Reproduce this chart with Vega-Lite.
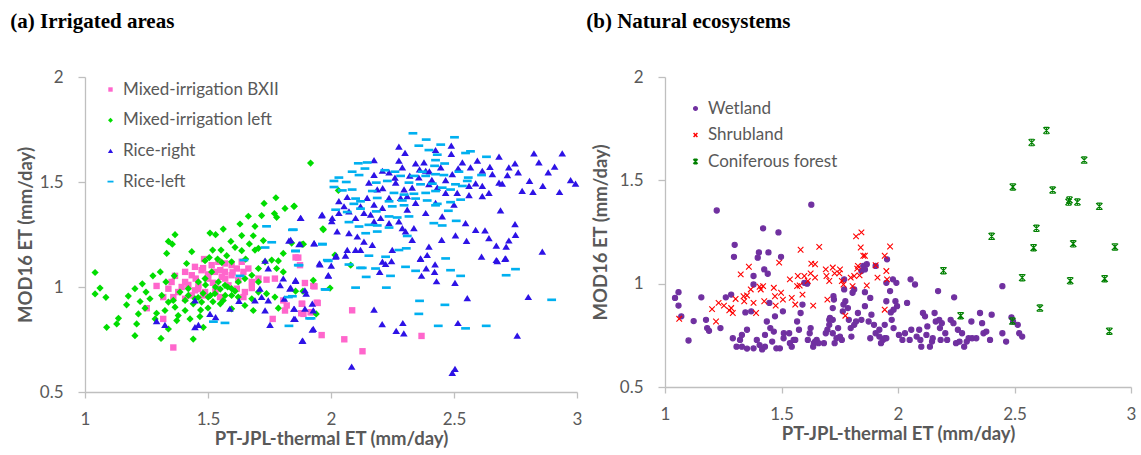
{
"$schema": "https://vega.github.io/schema/vega-lite/v6.json",
"background": "white",
"padding": {"left": 10, "top": 11, "right": 2, "bottom": 0},
"config": {
 "font": "Lato",
 "view": {"stroke": null},
 "axis": {"grid": false, "domainColor": "#BFBFBF", "domainWidth": 1.3, "tickColor": "#BFBFBF", "tickWidth": 1.3, "labelColor": "#595959", "titleColor": "#595959", "labelFont": "Lato", "labelFontSize": 17, "titleFont": "Lato", "titleFontSize": 18.5, "titleFontWeight": "bold"},
 "axisX": {"tickSize": 6, "labelPadding": 13, "titlePadding": 2.5, "labelFlush": false},
 "axisY": {"tickSize": 7, "labelPadding": 15},
 "legend": {"labelFont": "Lato", "labelFontSize": 17, "labelColor": "#595959", "labelOffset": 4, "symbolSize": 30, "title": null},
 "title": {"font": "Liberation Serif", "fontSize": 21, "fontWeight": "bold", "color": "#000000", "anchor": "start", "frame": "bounds", "offset": 36, "dx": -6}
},
"datasets": {
"irr": [
{"pt":1.484,"mod":1.133,"site":"Mixed-irrigation BXII"},{"pt":1.447,"mod":1.096,"site":"Mixed-irrigation BXII"},{"pt":1.407,"mod":1.072,"site":"Mixed-irrigation BXII"},{"pt":1.366,"mod":1.053,"site":"Mixed-irrigation BXII"},{"pt":1.352,"mod":1.024,"site":"Mixed-irrigation BXII"},{"pt":1.339,"mod":0.992,"site":"Mixed-irrigation BXII"},{"pt":1.379,"mod":0.976,"site":"Mixed-irrigation BXII"},{"pt":1.407,"mod":1.024,"site":"Mixed-irrigation BXII"},{"pt":1.434,"mod":1.056,"site":"Mixed-irrigation BXII"},{"pt":1.474,"mod":1.080,"site":"Mixed-irrigation BXII"},{"pt":1.515,"mod":1.104,"site":"Mixed-irrigation BXII"},{"pt":1.542,"mod":1.120,"site":"Mixed-irrigation BXII"},{"pt":1.569,"mod":1.112,"site":"Mixed-irrigation BXII"},{"pt":1.596,"mod":1.104,"site":"Mixed-irrigation BXII"},{"pt":1.617,"mod":1.088,"site":"Mixed-irrigation BXII"},{"pt":1.644,"mod":1.072,"site":"Mixed-irrigation BXII"},{"pt":1.596,"mod":1.056,"site":"Mixed-irrigation BXII"},{"pt":1.556,"mod":1.048,"site":"Mixed-irrigation BXII"},{"pt":1.528,"mod":1.072,"site":"Mixed-irrigation BXII"},{"pt":1.501,"mod":1.040,"site":"Mixed-irrigation BXII"},{"pt":1.461,"mod":1.008,"site":"Mixed-irrigation BXII"},{"pt":1.434,"mod":0.960,"site":"Mixed-irrigation BXII"},{"pt":1.407,"mod":0.944,"site":"Mixed-irrigation BXII"},{"pt":1.481,"mod":0.960,"site":"Mixed-irrigation BXII"},{"pt":1.535,"mod":0.992,"site":"Mixed-irrigation BXII"},{"pt":1.583,"mod":1.008,"site":"Mixed-irrigation BXII"},{"pt":1.623,"mod":1.032,"site":"Mixed-irrigation BXII"},{"pt":1.650,"mod":0.976,"site":"Mixed-irrigation BXII"},{"pt":1.678,"mod":1.024,"site":"Mixed-irrigation BXII"},{"pt":1.705,"mod":1.040,"site":"Mixed-irrigation BXII"},{"pt":1.738,"mod":1.035,"site":"Mixed-irrigation BXII"},{"pt":1.772,"mod":1.040,"site":"Mixed-irrigation BXII"},{"pt":1.664,"mod":1.088,"site":"Mixed-irrigation BXII"},{"pt":1.291,"mod":1.005,"site":"Mixed-irrigation BXII"},{"pt":1.318,"mod":0.952,"site":"Mixed-irrigation BXII"},{"pt":1.359,"mod":0.952,"site":"Mixed-irrigation BXII"},{"pt":1.251,"mod":0.899,"site":"Mixed-irrigation BXII"},{"pt":1.318,"mod":0.848,"site":"Mixed-irrigation BXII"},{"pt":1.359,"mod":0.712,"site":"Mixed-irrigation BXII"},{"pt":1.806,"mod":0.936,"site":"Mixed-irrigation BXII"},{"pt":1.820,"mod":0.912,"site":"Mixed-irrigation BXII"},{"pt":1.881,"mod":0.920,"site":"Mixed-irrigation BXII"},{"pt":1.894,"mod":1.019,"site":"Mixed-irrigation BXII"},{"pt":1.928,"mod":1.005,"site":"Mixed-irrigation BXII"},{"pt":1.867,"mod":1.140,"site":"Mixed-irrigation BXII"},{"pt":1.874,"mod":1.104,"site":"Mixed-irrigation BXII"},{"pt":1.888,"mod":0.872,"site":"Mixed-irrigation BXII"},{"pt":1.921,"mod":0.880,"site":"Mixed-irrigation BXII"},{"pt":1.942,"mod":0.925,"site":"Mixed-irrigation BXII"},{"pt":1.962,"mod":0.771,"site":"Mixed-irrigation BXII"},{"pt":1.813,"mod":0.888,"site":"Mixed-irrigation BXII"},{"pt":1.763,"mod":0.848,"site":"Mixed-irrigation BXII"},{"pt":1.644,"mod":0.952,"site":"Mixed-irrigation BXII"},{"pt":1.549,"mod":0.952,"site":"Mixed-irrigation BXII"},{"pt":1.447,"mod":0.984,"site":"Mixed-irrigation BXII"},{"pt":1.393,"mod":1.000,"site":"Mixed-irrigation BXII"},{"pt":1.488,"mod":0.976,"site":"Mixed-irrigation BXII"},{"pt":1.569,"mod":1.072,"site":"Mixed-irrigation BXII"},{"pt":1.637,"mod":1.120,"site":"Mixed-irrigation BXII"},{"pt":1.678,"mod":0.995,"site":"Mixed-irrigation BXII"},{"pt":1.617,"mod":0.992,"site":"Mixed-irrigation BXII"},{"pt":1.45,"mod":1.04,"site":"Mixed-irrigation BXII"},{"pt":1.50,"mod":1.06,"site":"Mixed-irrigation BXII"},{"pt":1.52,"mod":1.02,"site":"Mixed-irrigation BXII"},{"pt":1.55,"mod":1.08,"site":"Mixed-irrigation BXII"},{"pt":1.48,"mod":1.09,"site":"Mixed-irrigation BXII"},{"pt":1.42,"mod":1.01,"site":"Mixed-irrigation BXII"},{"pt":1.57,"mod":1.04,"site":"Mixed-irrigation BXII"},{"pt":1.60,"mod":1.07,"site":"Mixed-irrigation BXII"},{"pt":1.53,"mod":0.98,"site":"Mixed-irrigation BXII"},{"pt":1.46,"mod":0.99,"site":"Mixed-irrigation BXII"},{"pt":1.856,"mod":1.141,"site":"Mixed-irrigation BXII"},{"pt":1.933,"mod":1.003,"site":"Mixed-irrigation BXII"},{"pt":1.883,"mod":0.920,"site":"Mixed-irrigation BXII"},{"pt":1.879,"mod":0.875,"site":"Mixed-irrigation BXII"},{"pt":1.946,"mod":0.924,"site":"Mixed-irrigation BXII"},{"pt":1.917,"mod":0.880,"site":"Mixed-irrigation BXII"},{"pt":2.086,"mod":0.889,"site":"Mixed-irrigation BXII"},{"pt":2.054,"mod":0.751,"site":"Mixed-irrigation BXII"},{"pt":2.128,"mod":0.694,"site":"Mixed-irrigation BXII"},{"pt":2.368,"mod":0.767,"site":"Mixed-irrigation BXII"},
{"pt":1.776,"mod":1.425,"site":"Mixed-irrigation left"},{"pt":1.728,"mod":1.398,"site":"Mixed-irrigation left"},{"pt":1.851,"mod":1.385,"site":"Mixed-irrigation left"},{"pt":1.813,"mod":1.374,"site":"Mixed-irrigation left"},{"pt":1.770,"mod":1.350,"site":"Mixed-irrigation left"},{"pt":1.779,"mod":1.332,"site":"Mixed-irrigation left"},{"pt":1.664,"mod":1.337,"site":"Mixed-irrigation left"},{"pt":1.718,"mod":1.340,"site":"Mixed-irrigation left"},{"pt":1.630,"mod":1.300,"site":"Mixed-irrigation left"},{"pt":1.691,"mod":1.289,"site":"Mixed-irrigation left"},{"pt":1.562,"mod":1.276,"site":"Mixed-irrigation left"},{"pt":1.508,"mod":1.257,"site":"Mixed-irrigation left"},{"pt":1.531,"mod":1.249,"site":"Mixed-irrigation left"},{"pt":1.366,"mod":1.249,"site":"Mixed-irrigation left"},{"pt":1.339,"mod":1.217,"site":"Mixed-irrigation left"},{"pt":1.355,"mod":1.204,"site":"Mixed-irrigation left"},{"pt":1.332,"mod":1.160,"site":"Mixed-irrigation left"},{"pt":1.593,"mod":1.217,"site":"Mixed-irrigation left"},{"pt":1.637,"mod":1.245,"site":"Mixed-irrigation left"},{"pt":1.684,"mod":1.244,"site":"Mixed-irrigation left"},{"pt":1.725,"mod":1.221,"site":"Mixed-irrigation left"},{"pt":1.668,"mod":1.205,"site":"Mixed-irrigation left"},{"pt":1.610,"mod":1.189,"site":"Mixed-irrigation left"},{"pt":1.553,"mod":1.176,"site":"Mixed-irrigation left"},{"pt":1.519,"mod":1.176,"site":"Mixed-irrigation left"},{"pt":1.434,"mod":1.168,"site":"Mixed-irrigation left"},{"pt":1.576,"mod":1.149,"site":"Mixed-irrigation left"},{"pt":1.637,"mod":1.173,"site":"Mixed-irrigation left"},{"pt":1.691,"mod":1.176,"site":"Mixed-irrigation left"},{"pt":1.705,"mod":1.184,"site":"Mixed-irrigation left"},{"pt":1.653,"mod":1.133,"site":"Mixed-irrigation left"},{"pt":1.413,"mod":1.112,"site":"Mixed-irrigation left"},{"pt":1.488,"mod":1.125,"site":"Mixed-irrigation left"},{"pt":1.505,"mod":1.140,"site":"Mixed-irrigation left"},{"pt":1.539,"mod":1.133,"site":"Mixed-irrigation left"},{"pt":1.556,"mod":1.117,"site":"Mixed-irrigation left"},{"pt":1.596,"mod":1.120,"site":"Mixed-irrigation left"},{"pt":1.041,"mod":1.069,"site":"Mixed-irrigation left"},{"pt":1.306,"mod":1.072,"site":"Mixed-irrigation left"},{"pt":1.276,"mod":1.053,"site":"Mixed-irrigation left"},{"pt":1.329,"mod":1.024,"site":"Mixed-irrigation left"},{"pt":1.363,"mod":1.053,"site":"Mixed-irrigation left"},{"pt":1.233,"mod":1.015,"site":"Mixed-irrigation left"},{"pt":1.203,"mod":0.992,"site":"Mixed-irrigation left"},{"pt":1.176,"mod":0.957,"site":"Mixed-irrigation left"},{"pt":1.248,"mod":0.976,"site":"Mixed-irrigation left"},{"pt":1.061,"mod":0.995,"site":"Mixed-irrigation left"},{"pt":1.041,"mod":0.967,"site":"Mixed-irrigation left"},{"pt":1.085,"mod":0.951,"site":"Mixed-irrigation left"},{"pt":1.264,"mod":0.944,"site":"Mixed-irrigation left"},{"pt":1.224,"mod":0.931,"site":"Mixed-irrigation left"},{"pt":1.169,"mod":0.915,"site":"Mixed-irrigation left"},{"pt":1.136,"mod":0.851,"site":"Mixed-irrigation left"},{"pt":1.088,"mod":0.808,"site":"Mixed-irrigation left"},{"pt":1.129,"mod":0.824,"site":"Mixed-irrigation left"},{"pt":1.210,"mod":0.824,"site":"Mixed-irrigation left"},{"pt":1.244,"mod":0.899,"site":"Mixed-irrigation left"},{"pt":1.291,"mod":0.875,"site":"Mixed-irrigation left"},{"pt":1.325,"mod":0.888,"site":"Mixed-irrigation left"},{"pt":1.217,"mod":0.872,"site":"Mixed-irrigation left"},{"pt":1.203,"mod":0.768,"site":"Mixed-irrigation left"},{"pt":1.309,"mod":0.755,"site":"Mixed-irrigation left"},{"pt":1.440,"mod":0.752,"site":"Mixed-irrigation left"},{"pt":1.339,"mod":0.800,"site":"Mixed-irrigation left"},{"pt":1.379,"mod":0.864,"site":"Mixed-irrigation left"},{"pt":1.407,"mod":0.888,"site":"Mixed-irrigation left"},{"pt":1.427,"mod":0.848,"site":"Mixed-irrigation left"},{"pt":1.467,"mod":0.859,"site":"Mixed-irrigation left"},{"pt":1.481,"mod":0.808,"site":"Mixed-irrigation left"},{"pt":1.359,"mod":0.936,"site":"Mixed-irrigation left"},{"pt":1.386,"mod":0.976,"site":"Mixed-irrigation left"},{"pt":1.420,"mod":0.992,"site":"Mixed-irrigation left"},{"pt":1.461,"mod":1.024,"site":"Mixed-irrigation left"},{"pt":1.488,"mod":1.040,"site":"Mixed-irrigation left"},{"pt":1.515,"mod":1.072,"site":"Mixed-irrigation left"},{"pt":1.542,"mod":1.024,"site":"Mixed-irrigation left"},{"pt":1.569,"mod":1.008,"site":"Mixed-irrigation left"},{"pt":1.596,"mod":0.992,"site":"Mixed-irrigation left"},{"pt":1.623,"mod":1.024,"site":"Mixed-irrigation left"},{"pt":1.650,"mod":1.040,"site":"Mixed-irrigation left"},{"pt":1.678,"mod":1.056,"site":"Mixed-irrigation left"},{"pt":1.705,"mod":1.088,"site":"Mixed-irrigation left"},{"pt":1.732,"mod":1.120,"site":"Mixed-irrigation left"},{"pt":1.759,"mod":1.128,"site":"Mixed-irrigation left"},{"pt":1.786,"mod":1.124,"site":"Mixed-irrigation left"},{"pt":1.779,"mod":1.088,"site":"Mixed-irrigation left"},{"pt":1.806,"mod":1.160,"site":"Mixed-irrigation left"},{"pt":1.840,"mod":1.209,"site":"Mixed-irrigation left"},{"pt":1.888,"mod":1.204,"site":"Mixed-irrigation left"},{"pt":1.969,"mod":1.273,"site":"Mixed-irrigation left"},{"pt":1.928,"mod":1.032,"site":"Mixed-irrigation left"},{"pt":1.996,"mod":0.995,"site":"Mixed-irrigation left"},{"pt":1.806,"mod":1.072,"site":"Mixed-irrigation left"},{"pt":1.705,"mod":0.976,"site":"Mixed-irrigation left"},{"pt":1.738,"mod":0.968,"site":"Mixed-irrigation left"},{"pt":1.772,"mod":0.952,"site":"Mixed-irrigation left"},{"pt":1.786,"mod":0.899,"site":"Mixed-irrigation left"},{"pt":1.684,"mod":0.888,"site":"Mixed-irrigation left"},{"pt":1.650,"mod":0.912,"site":"Mixed-irrigation left"},{"pt":1.596,"mod":0.960,"site":"Mixed-irrigation left"},{"pt":1.562,"mod":0.936,"site":"Mixed-irrigation left"},{"pt":1.528,"mod":0.968,"site":"Mixed-irrigation left"},{"pt":1.501,"mod":0.952,"site":"Mixed-irrigation left"},{"pt":1.474,"mod":0.928,"site":"Mixed-irrigation left"},{"pt":1.447,"mod":0.944,"site":"Mixed-irrigation left"},{"pt":1.407,"mod":0.936,"site":"Mixed-irrigation left"},{"pt":1.366,"mod":0.904,"site":"Mixed-irrigation left"},{"pt":1.339,"mod":0.928,"site":"Mixed-irrigation left"},{"pt":1.312,"mod":0.960,"site":"Mixed-irrigation left"},{"pt":1.285,"mod":0.848,"site":"Mixed-irrigation left"},{"pt":1.373,"mod":0.840,"site":"Mixed-irrigation left"},{"pt":1.705,"mod":1.024,"site":"Mixed-irrigation left"},{"pt":1.678,"mod":0.944,"site":"Mixed-irrigation left"},{"pt":1.623,"mod":0.952,"site":"Mixed-irrigation left"},{"pt":1.596,"mod":0.896,"site":"Mixed-irrigation left"},{"pt":1.48,"mod":0.97,"site":"Mixed-irrigation left"},{"pt":1.52,"mod":0.93,"site":"Mixed-irrigation left"},{"pt":1.55,"mod":0.99,"site":"Mixed-irrigation left"},{"pt":1.50,"mod":0.90,"site":"Mixed-irrigation left"},{"pt":1.46,"mod":0.95,"site":"Mixed-irrigation left"},{"pt":1.53,"mod":1.00,"site":"Mixed-irrigation left"},{"pt":1.57,"mod":0.96,"site":"Mixed-irrigation left"},{"pt":1.44,"mod":0.92,"site":"Mixed-irrigation left"},{"pt":1.51,"mod":0.96,"site":"Mixed-irrigation left"},{"pt":1.55,"mod":0.92,"site":"Mixed-irrigation left"},{"pt":1.49,"mod":1.01,"site":"Mixed-irrigation left"},{"pt":1.42,"mod":0.96,"site":"Mixed-irrigation left"},{"pt":1.58,"mod":1.00,"site":"Mixed-irrigation left"},{"pt":1.61,"mod":0.98,"site":"Mixed-irrigation left"},{"pt":1.47,"mod":0.89,"site":"Mixed-irrigation left"},{"pt":1.917,"mod":1.59,"site":"Mixed-irrigation left"},{"pt":1.849,"mod":1.384,"site":"Mixed-irrigation left"},{"pt":1.967,"mod":1.277,"site":"Mixed-irrigation left"},{"pt":1.883,"mod":1.203,"site":"Mixed-irrigation left"},{"pt":2.016,"mod":1.152,"site":"Mixed-irrigation left"},{"pt":2.08,"mod":1.104,"site":"Mixed-irrigation left"},{"pt":2.03,"mod":1.46,"site":"Mixed-irrigation left"},{"pt":1.856,"mod":0.98,"site":"Mixed-irrigation left"},{"pt":1.886,"mod":0.98,"site":"Mixed-irrigation left"},{"pt":1.94,"mod":0.872,"site":"Mixed-irrigation left"},
{"pt":1.877,"mod":1.329,"site":"Rice-right"},{"pt":1.962,"mod":1.340,"site":"Rice-right"},{"pt":2.003,"mod":1.313,"site":"Rice-right"},{"pt":1.829,"mod":1.220,"site":"Rice-right"},{"pt":1.874,"mod":1.205,"site":"Rice-right"},{"pt":1.932,"mod":1.207,"site":"Rice-right"},{"pt":1.953,"mod":1.112,"site":"Rice-right"},{"pt":1.989,"mod":1.056,"site":"Rice-right"},{"pt":1.732,"mod":1.125,"site":"Rice-right"},{"pt":1.745,"mod":1.088,"site":"Rice-right"},{"pt":1.806,"mod":1.040,"site":"Rice-right"},{"pt":1.856,"mod":1.029,"site":"Rice-right"},{"pt":1.793,"mod":1.008,"site":"Rice-right"},{"pt":1.833,"mod":0.992,"site":"Rice-right"},{"pt":1.894,"mod":0.984,"site":"Rice-right"},{"pt":1.711,"mod":0.992,"site":"Rice-right"},{"pt":1.718,"mod":0.952,"site":"Rice-right"},{"pt":1.745,"mod":0.936,"site":"Rice-right"},{"pt":1.810,"mod":0.944,"site":"Rice-right"},{"pt":1.851,"mod":0.896,"site":"Rice-right"},{"pt":1.894,"mod":0.896,"site":"Rice-right"},{"pt":1.928,"mod":0.888,"site":"Rice-right"},{"pt":1.854,"mod":0.848,"site":"Rice-right"},{"pt":1.752,"mod":0.819,"site":"Rice-right"},{"pt":1.928,"mod":0.800,"site":"Rice-right"},{"pt":1.885,"mod":0.744,"site":"Rice-right"},{"pt":1.626,"mod":0.933,"site":"Rice-right"},{"pt":1.589,"mod":0.896,"site":"Rice-right"},{"pt":1.447,"mod":0.936,"site":"Rice-right"},{"pt":1.508,"mod":0.872,"site":"Rice-right"},{"pt":1.531,"mod":0.856,"site":"Rice-right"},{"pt":1.461,"mod":0.819,"site":"Rice-right"},{"pt":1.447,"mod":0.808,"site":"Rice-right"},{"pt":1.325,"mod":0.819,"site":"Rice-right"},{"pt":1.291,"mod":0.837,"site":"Rice-right"},{"pt":1.691,"mod":0.936,"site":"Rice-right"},{"pt":1.732,"mod":0.888,"site":"Rice-right"},
{"pt":2.276,"mod":1.668,"site":"Rice-right"},{"pt":2.301,"mod":1.638,"site":"Rice-right"},{"pt":2.489,"mod":1.673,"site":"Rice-right"},{"pt":2.489,"mod":1.633,"site":"Rice-right"},{"pt":2.425,"mod":1.652,"site":"Rice-right"},{"pt":2.683,"mod":1.620,"site":"Rice-right"},{"pt":2.825,"mod":1.636,"site":"Rice-right"},{"pt":2.940,"mod":1.636,"site":"Rice-right"},{"pt":2.845,"mod":1.593,"site":"Rice-right"},{"pt":2.909,"mod":1.573,"site":"Rice-right"},{"pt":2.883,"mod":1.545,"site":"Rice-right"},{"pt":2.974,"mod":1.508,"site":"Rice-right"},{"pt":2.994,"mod":1.492,"site":"Rice-right"},{"pt":2.929,"mod":1.452,"site":"Rice-right"},{"pt":2.861,"mod":1.481,"site":"Rice-right"},{"pt":2.821,"mod":1.452,"site":"Rice-right"},{"pt":2.807,"mod":1.505,"site":"Rice-right"},{"pt":2.777,"mod":1.457,"site":"Rice-right"},{"pt":2.761,"mod":1.545,"site":"Rice-right"},{"pt":2.748,"mod":1.588,"site":"Rice-right"},{"pt":2.723,"mod":1.569,"site":"Rice-right"},{"pt":2.717,"mod":1.532,"site":"Rice-right"},{"pt":2.683,"mod":1.497,"site":"Rice-right"},{"pt":2.656,"mod":1.537,"site":"Rice-right"},{"pt":2.646,"mod":1.572,"site":"Rice-right"},{"pt":2.615,"mod":1.553,"site":"Rice-right"},{"pt":2.615,"mod":1.481,"site":"Rice-right"},{"pt":2.588,"mod":1.493,"site":"Rice-right"},{"pt":2.561,"mod":1.481,"site":"Rice-right"},{"pt":2.567,"mod":1.569,"site":"Rice-right"},{"pt":2.595,"mod":1.601,"site":"Rice-right"},{"pt":2.534,"mod":1.593,"site":"Rice-right"},{"pt":2.517,"mod":1.565,"site":"Rice-right"},{"pt":2.493,"mod":1.537,"site":"Rice-right"},{"pt":2.466,"mod":1.508,"site":"Rice-right"},{"pt":2.446,"mod":1.569,"site":"Rice-right"},{"pt":2.378,"mod":1.593,"site":"Rice-right"},{"pt":2.344,"mod":1.588,"site":"Rice-right"},{"pt":2.276,"mod":1.601,"site":"Rice-right"},{"pt":2.290,"mod":1.569,"site":"Rice-right"},{"pt":2.236,"mod":1.545,"site":"Rice-right"},{"pt":2.209,"mod":1.553,"site":"Rice-right"},{"pt":2.175,"mod":1.604,"site":"Rice-right"},{"pt":2.175,"mod":1.533,"site":"Rice-right"},{"pt":2.154,"mod":1.497,"site":"Rice-right"},{"pt":2.188,"mod":1.464,"site":"Rice-right"},{"pt":2.263,"mod":1.497,"site":"Rice-right"},{"pt":2.297,"mod":1.464,"site":"Rice-right"},{"pt":2.330,"mod":1.473,"site":"Rice-right"},{"pt":2.357,"mod":1.521,"site":"Rice-right"},{"pt":2.385,"mod":1.553,"site":"Rice-right"},{"pt":2.398,"mod":1.489,"site":"Rice-right"},{"pt":2.432,"mod":1.473,"site":"Rice-right"},{"pt":2.466,"mod":1.448,"site":"Rice-right"},{"pt":2.513,"mod":1.448,"site":"Rice-right"},{"pt":2.561,"mod":1.437,"site":"Rice-right"},{"pt":2.615,"mod":1.432,"site":"Rice-right"},{"pt":2.642,"mod":1.448,"site":"Rice-right"},{"pt":2.696,"mod":1.492,"site":"Rice-right"},{"pt":2.310,"mod":1.432,"site":"Rice-right"},{"pt":2.283,"mod":1.424,"site":"Rice-right"},{"pt":2.236,"mod":1.424,"site":"Rice-right"},{"pt":2.209,"mod":1.376,"site":"Rice-right"},{"pt":2.175,"mod":1.392,"site":"Rice-right"},{"pt":2.147,"mod":1.424,"site":"Rice-right"},{"pt":2.120,"mod":1.384,"site":"Rice-right"},{"pt":2.066,"mod":1.428,"site":"Rice-right"},{"pt":2.053,"mod":1.384,"site":"Rice-right"},{"pt":2.032,"mod":1.408,"site":"Rice-right"},{"pt":2.032,"mod":1.352,"site":"Rice-right"},{"pt":2.073,"mod":1.360,"site":"Rice-right"},{"pt":2.100,"mod":1.328,"site":"Rice-right"},{"pt":2.134,"mod":1.352,"site":"Rice-right"},{"pt":2.161,"mod":1.344,"site":"Rice-right"},{"pt":2.175,"mod":1.312,"site":"Rice-right"},{"pt":2.202,"mod":1.328,"site":"Rice-right"},{"pt":2.236,"mod":1.304,"site":"Rice-right"},{"pt":2.276,"mod":1.312,"site":"Rice-right"},{"pt":2.290,"mod":1.280,"site":"Rice-right"},{"pt":2.310,"mod":1.368,"site":"Rice-right"},{"pt":2.344,"mod":1.400,"site":"Rice-right"},{"pt":2.385,"mod":1.352,"site":"Rice-right"},{"pt":2.425,"mod":1.400,"site":"Rice-right"},{"pt":2.452,"mod":1.336,"site":"Rice-right"},{"pt":2.500,"mod":1.392,"site":"Rice-right"},{"pt":2.689,"mod":1.364,"site":"Rice-right"},{"pt":2.748,"mod":1.299,"site":"Rice-right"},{"pt":2.750,"mod":1.248,"site":"Rice-right"},{"pt":2.547,"mod":1.304,"site":"Rice-right"},{"pt":2.588,"mod":1.272,"site":"Rice-right"},{"pt":2.626,"mod":1.269,"site":"Rice-right"},{"pt":2.642,"mod":1.232,"site":"Rice-right"},{"pt":2.672,"mod":1.197,"site":"Rice-right"},{"pt":2.712,"mod":1.192,"site":"Rice-right"},{"pt":2.723,"mod":1.221,"site":"Rice-right"},{"pt":2.859,"mod":1.168,"site":"Rice-right"},{"pt":2.612,"mod":1.144,"site":"Rice-right"},{"pt":2.672,"mod":1.128,"site":"Rice-right"},{"pt":2.710,"mod":1.136,"site":"Rice-right"},{"pt":2.551,"mod":1.219,"site":"Rice-right"},{"pt":2.506,"mod":1.245,"site":"Rice-right"},{"pt":2.450,"mod":1.224,"site":"Rice-right"},{"pt":2.398,"mod":1.192,"site":"Rice-right"},{"pt":2.364,"mod":1.136,"site":"Rice-right"},{"pt":2.391,"mod":1.152,"site":"Rice-right"},{"pt":2.337,"mod":1.280,"site":"Rice-right"},{"pt":2.303,"mod":1.264,"site":"Rice-right"},{"pt":2.330,"mod":1.224,"site":"Rice-right"},{"pt":2.249,"mod":1.176,"site":"Rice-right"},{"pt":2.209,"mod":1.120,"site":"Rice-right"},{"pt":2.168,"mod":1.200,"site":"Rice-right"},{"pt":2.134,"mod":1.216,"site":"Rice-right"},{"pt":2.107,"mod":1.240,"site":"Rice-right"},{"pt":2.073,"mod":1.256,"site":"Rice-right"},{"pt":2.025,"mod":1.264,"site":"Rice-right"},{"pt":2.005,"mod":1.328,"site":"Rice-right"},{"pt":1.964,"mod":1.344,"site":"Rice-right"},{"pt":1.931,"mod":1.208,"site":"Rice-right"},{"pt":1.876,"mod":1.328,"site":"Rice-right"},{"pt":1.836,"mod":1.224,"site":"Rice-right"},{"pt":1.870,"mod":1.203,"site":"Rice-right"},{"pt":2.019,"mod":1.144,"site":"Rice-right"},{"pt":2.066,"mod":1.176,"site":"Rice-right"},{"pt":2.100,"mod":1.176,"site":"Rice-right"},{"pt":2.120,"mod":1.176,"site":"Rice-right"},
{"pt":1.856,"mod":1.032,"site":"Rice-right"},{"pt":1.836,"mod":0.997,"site":"Rice-right"},{"pt":1.899,"mod":0.968,"site":"Rice-right"},{"pt":1.924,"mod":0.920,"site":"Rice-right"},{"pt":1.849,"mod":0.896,"site":"Rice-right"},{"pt":1.849,"mod":0.848,"site":"Rice-right"},{"pt":1.924,"mod":0.796,"site":"Rice-right"},{"pt":1.883,"mod":0.743,"site":"Rice-right"},{"pt":1.989,"mod":1.053,"site":"Rice-right"},{"pt":1.955,"mod":1.107,"site":"Rice-right"},{"pt":2.001,"mod":1.101,"site":"Rice-right"},{"pt":2.021,"mod":1.149,"site":"Rice-right"},{"pt":2.059,"mod":1.149,"site":"Rice-right"},{"pt":2.175,"mod":0.892,"site":"Rice-right"},{"pt":2.208,"mod":0.823,"site":"Rice-right"},{"pt":2.292,"mod":0.828,"site":"Rice-right"},{"pt":2.265,"mod":0.791,"site":"Rice-right"},{"pt":2.296,"mod":0.779,"site":"Rice-right"},{"pt":2.084,"mod":0.620,"site":"Rice-right"},{"pt":2.504,"mod":0.610,"site":"Rice-right"},{"pt":2.493,"mod":0.591,"site":"Rice-right"},{"pt":2.198,"mod":1.072,"site":"Rice-right"},{"pt":2.222,"mod":1.109,"site":"Rice-right"},{"pt":2.246,"mod":1.123,"site":"Rice-right"},{"pt":2.364,"mod":1.133,"site":"Rice-right"},{"pt":2.368,"mod":1.053,"site":"Rice-right"},{"pt":2.387,"mod":1.088,"site":"Rice-right"},{"pt":2.423,"mod":1.107,"site":"Rice-right"},{"pt":2.421,"mod":1.072,"site":"Rice-right"},{"pt":2.429,"mod":1.027,"site":"Rice-right"},{"pt":2.504,"mod":1.019,"site":"Rice-right"},{"pt":2.554,"mod":0.947,"site":"Rice-right"},{"pt":2.516,"mod":0.828,"site":"Rice-right"},{"pt":2.676,"mod":1.123,"site":"Rice-right"},{"pt":2.707,"mod":1.133,"site":"Rice-right"},{"pt":2.802,"mod":0.952,"site":"Rice-right"},{"pt":2.757,"mod":0.768,"site":"Rice-right"},{"pt":2.40,"mod":1.55,"site":"Rice-right"},{"pt":2.36,"mod":1.56,"site":"Rice-right"},{"pt":2.32,"mod":1.53,"site":"Rice-right"},{"pt":2.26,"mod":1.52,"site":"Rice-right"},{"pt":2.21,"mod":1.47,"site":"Rice-right"},{"pt":2.41,"mod":1.51,"site":"Rice-right"},
{"pt":2.333,"mod":1.732,"site":"Rice-left"},{"pt":2.387,"mod":1.702,"site":"Rice-left"},{"pt":2.502,"mod":1.713,"site":"Rice-left"},{"pt":2.446,"mod":1.678,"site":"Rice-left"},{"pt":2.357,"mod":1.673,"site":"Rice-left"},{"pt":2.398,"mod":1.652,"site":"Rice-left"},{"pt":2.432,"mod":1.630,"site":"Rice-left"},{"pt":2.547,"mod":1.638,"site":"Rice-left"},{"pt":2.567,"mod":1.646,"site":"Rice-left"},{"pt":2.632,"mod":1.620,"site":"Rice-left"},{"pt":2.462,"mod":1.588,"site":"Rice-left"},{"pt":2.421,"mod":1.577,"site":"Rice-left"},{"pt":2.425,"mod":1.604,"site":"Rice-left"},{"pt":2.111,"mod":1.589,"site":"Rice-left"},{"pt":2.147,"mod":1.593,"site":"Rice-left"},{"pt":2.138,"mod":1.564,"site":"Rice-left"},{"pt":2.086,"mod":1.549,"site":"Rice-left"},{"pt":2.114,"mod":1.533,"site":"Rice-left"},{"pt":2.032,"mod":1.521,"site":"Rice-left"},{"pt":2.012,"mod":1.505,"site":"Rice-left"},{"pt":2.062,"mod":1.500,"site":"Rice-left"},{"pt":2.012,"mod":1.476,"site":"Rice-left"},{"pt":2.086,"mod":1.464,"site":"Rice-left"},{"pt":2.046,"mod":1.460,"site":"Rice-left"},{"pt":2.219,"mod":1.556,"site":"Rice-left"},{"pt":2.260,"mod":1.549,"site":"Rice-left"},{"pt":2.283,"mod":1.529,"site":"Rice-left"},{"pt":2.337,"mod":1.529,"site":"Rice-left"},{"pt":2.371,"mod":1.549,"site":"Rice-left"},{"pt":2.385,"mod":1.529,"site":"Rice-left"},{"pt":2.425,"mod":1.537,"site":"Rice-left"},{"pt":2.459,"mod":1.533,"site":"Rice-left"},{"pt":2.520,"mod":1.549,"site":"Rice-left"},{"pt":2.558,"mod":1.521,"site":"Rice-left"},{"pt":2.612,"mod":1.533,"site":"Rice-left"},{"pt":2.184,"mod":1.497,"site":"Rice-left"},{"pt":2.229,"mod":1.505,"site":"Rice-left"},{"pt":2.317,"mod":1.497,"site":"Rice-left"},{"pt":2.364,"mod":1.489,"site":"Rice-left"},{"pt":2.412,"mod":1.492,"site":"Rice-left"},{"pt":2.452,"mod":1.473,"site":"Rice-left"},{"pt":2.506,"mod":1.489,"site":"Rice-left"},{"pt":2.554,"mod":1.505,"site":"Rice-left"},{"pt":2.168,"mod":1.457,"site":"Rice-left"},{"pt":2.256,"mod":1.448,"site":"Rice-left"},{"pt":2.297,"mod":1.440,"site":"Rice-left"},{"pt":2.337,"mod":1.444,"site":"Rice-left"},{"pt":2.385,"mod":1.448,"site":"Rice-left"},{"pt":2.425,"mod":1.457,"site":"Rice-left"},{"pt":2.486,"mod":1.464,"site":"Rice-left"},{"pt":2.534,"mod":1.481,"site":"Rice-left"},{"pt":2.100,"mod":1.421,"site":"Rice-left"},{"pt":2.093,"mod":1.396,"site":"Rice-left"},{"pt":2.120,"mod":1.408,"site":"Rice-left"},{"pt":2.188,"mod":1.424,"site":"Rice-left"},{"pt":2.236,"mod":1.408,"site":"Rice-left"},{"pt":2.290,"mod":1.412,"site":"Rice-left"},{"pt":2.344,"mod":1.421,"site":"Rice-left"},{"pt":2.391,"mod":1.412,"site":"Rice-left"},{"pt":2.432,"mod":1.396,"site":"Rice-left"},{"pt":2.486,"mod":1.404,"site":"Rice-left"},{"pt":2.527,"mod":1.416,"site":"Rice-left"},{"pt":2.249,"mod":1.384,"site":"Rice-left"},{"pt":2.297,"mod":1.389,"site":"Rice-left"},{"pt":2.425,"mod":1.389,"site":"Rice-left"},{"pt":2.477,"mod":1.363,"site":"Rice-left"},{"pt":2.019,"mod":1.368,"site":"Rice-left"},{"pt":2.066,"mod":1.357,"site":"Rice-left"},{"pt":2.120,"mod":1.373,"site":"Rice-left"},{"pt":2.184,"mod":1.360,"site":"Rice-left"},{"pt":2.236,"mod":1.336,"site":"Rice-left"},{"pt":2.269,"mod":1.331,"site":"Rice-left"},{"pt":2.317,"mod":1.336,"site":"Rice-left"},{"pt":2.073,"mod":1.309,"site":"Rice-left"},{"pt":2.114,"mod":1.288,"site":"Rice-left"},{"pt":2.154,"mod":1.296,"site":"Rice-left"},{"pt":2.188,"mod":1.293,"site":"Rice-left"},{"pt":2.236,"mod":1.283,"site":"Rice-left"},{"pt":2.418,"mod":1.304,"site":"Rice-left"},{"pt":2.452,"mod":1.293,"site":"Rice-left"},{"pt":2.509,"mod":1.315,"site":"Rice-left"},{"pt":1.843,"mod":1.272,"site":"Rice-left"},{"pt":2.141,"mod":1.256,"site":"Rice-left"},{"pt":2.188,"mod":1.264,"site":"Rice-left"},{"pt":2.310,"mod":1.243,"site":"Rice-left"},{"pt":1.965,"mod":1.203,"site":"Rice-left"},{"pt":1.856,"mod":1.171,"site":"Rice-left"},{"pt":1.870,"mod":1.104,"site":"Rice-left"},{"pt":2.154,"mod":1.149,"site":"Rice-left"},{"pt":2.222,"mod":1.144,"site":"Rice-left"},{"pt":2.276,"mod":1.176,"site":"Rice-left"},{"pt":2.306,"mod":1.184,"site":"Rice-left"},{"pt":2.466,"mod":1.136,"site":"Rice-left"},{"pt":2.303,"mod":1.096,"site":"Rice-left"},{"pt":2.120,"mod":1.091,"site":"Rice-left"},{"pt":2.750,"mod":1.085,"site":"Rice-left"},{"pt":1.985,"mod":1.128,"site":"Rice-left"},{"pt":2.073,"mod":1.107,"site":"Rice-left"},{"pt":2.127,"mod":1.091,"site":"Rice-left"},{"pt":2.181,"mod":1.088,"site":"Rice-left"},{"pt":2.344,"mod":1.077,"site":"Rice-left"},{"pt":2.143,"mod":1.048,"site":"Rice-left"},{"pt":2.242,"mod":1.053,"site":"Rice-left"},{"pt":2.486,"mod":1.080,"site":"Rice-left"},{"pt":2.527,"mod":1.053,"site":"Rice-left"},{"pt":2.712,"mod":1.056,"site":"Rice-left"},{"pt":2.100,"mod":0.997,"site":"Rice-left"},{"pt":2.225,"mod":0.997,"site":"Rice-left"},{"pt":1.978,"mod":0.988,"site":"Rice-left"},{"pt":1.843,"mod":0.956,"site":"Rice-left"},{"pt":2.360,"mod":0.934,"site":"Rice-left"},{"pt":2.463,"mod":0.915,"site":"Rice-left"},{"pt":2.897,"mod":0.939,"site":"Rice-left"},{"pt":2.357,"mod":0.872,"site":"Rice-left"},{"pt":1.913,"mod":0.851,"site":"Rice-left"},{"pt":2.436,"mod":0.815,"site":"Rice-left"},{"pt":2.547,"mod":0.803,"site":"Rice-left"},{"pt":2.631,"mod":0.815,"site":"Rice-left"},{"pt":1.829,"mod":0.815,"site":"Rice-left"},{"pt":1.738,"mod":1.289,"site":"Rice-left"},{"pt":1.847,"mod":1.273,"site":"Rice-left"},{"pt":1.759,"mod":1.213,"site":"Rice-left"},{"pt":1.732,"mod":1.188,"site":"Rice-left"},{"pt":1.856,"mod":1.172,"site":"Rice-left"},{"pt":1.867,"mod":1.104,"site":"Rice-left"},{"pt":1.965,"mod":1.205,"site":"Rice-left"},{"pt":1.989,"mod":1.124,"site":"Rice-left"},{"pt":1.630,"mod":1.053,"site":"Rice-left"},{"pt":1.827,"mod":0.952,"site":"Rice-left"},{"pt":1.976,"mod":0.989,"site":"Rice-left"},{"pt":1.919,"mod":0.851,"site":"Rice-left"},{"pt":1.569,"mod":0.829,"site":"Rice-left"},{"pt":1.522,"mod":0.835,"site":"Rice-left"},{"pt":1.646,"mod":1.128,"site":"Rice-left"}
],
"nat": [
{"pt":1.043,"mod":0.931,"site":"Wetland"},{"pt":1.058,"mod":0.959,"site":"Wetland"},{"pt":1.058,"mod":0.894,"site":"Wetland"},{"pt":1.070,"mod":0.842,"site":"Wetland"},{"pt":1.101,"mod":0.725,"site":"Wetland"},{"pt":1.123,"mod":0.819,"site":"Wetland"},{"pt":1.156,"mod":0.934,"site":"Wetland"},{"pt":1.176,"mod":0.825,"site":"Wetland"},{"pt":1.181,"mod":0.785,"site":"Wetland"},{"pt":1.189,"mod":0.772,"site":"Wetland"},{"pt":1.222,"mod":1.354,"site":"Wetland"},{"pt":1.238,"mod":0.785,"site":"Wetland"},{"pt":1.261,"mod":0.934,"site":"Wetland"},{"pt":1.284,"mod":0.947,"site":"Wetland"},{"pt":1.291,"mod":0.736,"site":"Wetland"},{"pt":1.296,"mod":1.130,"site":"Wetland"},{"pt":1.299,"mod":1.188,"site":"Wetland"},{"pt":1.307,"mod":0.695,"site":"Wetland"},{"pt":1.322,"mod":0.728,"site":"Wetland"},{"pt":1.330,"mod":0.752,"site":"Wetland"},{"pt":1.345,"mod":0.861,"site":"Wetland"},{"pt":1.352,"mod":0.686,"site":"Wetland"},{"pt":1.352,"mod":0.777,"site":"Wetland"},{"pt":1.380,"mod":1.037,"site":"Wetland"},{"pt":1.380,"mod":0.687,"site":"Wetland"},{"pt":1.394,"mod":0.728,"site":"Wetland"},{"pt":1.398,"mod":1.126,"site":"Wetland"},{"pt":1.403,"mod":1.151,"site":"Wetland"},{"pt":1.406,"mod":0.703,"site":"Wetland"},{"pt":1.417,"mod":0.682,"site":"Wetland"},{"pt":1.421,"mod":1.268,"site":"Wetland"},{"pt":1.426,"mod":1.069,"site":"Wetland"},{"pt":1.429,"mod":0.752,"site":"Wetland"},{"pt":1.437,"mod":0.817,"site":"Wetland"},{"pt":1.441,"mod":1.048,"site":"Wetland"},{"pt":1.444,"mod":1.151,"site":"Wetland"},{"pt":1.448,"mod":0.907,"site":"Wetland"},{"pt":1.452,"mod":0.785,"site":"Wetland"},{"pt":1.460,"mod":0.720,"site":"Wetland"},{"pt":1.467,"mod":0.768,"site":"Wetland"},{"pt":1.472,"mod":0.842,"site":"Wetland"},{"pt":1.478,"mod":0.687,"site":"Wetland"},{"pt":1.487,"mod":1.248,"site":"Wetland"},{"pt":1.493,"mod":0.687,"site":"Wetland"},{"pt":1.498,"mod":1.130,"site":"Wetland"},{"pt":1.506,"mod":0.866,"site":"Wetland"},{"pt":1.509,"mod":0.736,"site":"Wetland"},{"pt":1.510,"mod":0.760,"site":"Wetland"},{"pt":1.533,"mod":0.760,"site":"Wetland"},{"pt":1.536,"mod":0.712,"site":"Wetland"},{"pt":1.544,"mod":0.695,"site":"Wetland"},{"pt":1.552,"mod":0.728,"site":"Wetland"},{"pt":1.559,"mod":0.728,"site":"Wetland"},{"pt":1.567,"mod":0.817,"site":"Wetland"},{"pt":1.575,"mod":0.777,"site":"Wetland"},{"pt":1.582,"mod":0.858,"site":"Wetland"},{"pt":1.590,"mod":0.899,"site":"Wetland"},{"pt":1.598,"mod":1.004,"site":"Wetland"},{"pt":1.610,"mod":1.000,"site":"Wetland"},{"pt":1.613,"mod":0.728,"site":"Wetland"},{"pt":1.621,"mod":0.760,"site":"Wetland"},{"pt":1.625,"mod":0.785,"site":"Wetland"},{"pt":1.628,"mod":1.382,"site":"Wetland"},{"pt":1.636,"mod":0.695,"site":"Wetland"},{"pt":1.639,"mod":0.712,"site":"Wetland"},{"pt":1.644,"mod":0.720,"site":"Wetland"},{"pt":1.651,"mod":0.728,"site":"Wetland"},{"pt":1.659,"mod":0.712,"site":"Wetland"},{"pt":1.682,"mod":0.712,"site":"Wetland"},{"pt":1.690,"mod":0.760,"site":"Wetland"},{"pt":1.697,"mod":0.777,"site":"Wetland"},{"pt":1.705,"mod":0.825,"site":"Wetland"},{"pt":1.708,"mod":0.834,"site":"Wetland"},{"pt":1.720,"mod":0.760,"site":"Wetland"},{"pt":1.720,"mod":0.882,"site":"Wetland"},{"pt":1.723,"mod":0.939,"site":"Wetland"},{"pt":1.728,"mod":0.712,"site":"Wetland"},{"pt":1.736,"mod":0.736,"site":"Wetland"},{"pt":1.743,"mod":0.785,"site":"Wetland"},{"pt":1.751,"mod":0.744,"site":"Wetland"},{"pt":1.759,"mod":0.728,"site":"Wetland"},{"pt":1.763,"mod":0.866,"site":"Wetland"},{"pt":1.766,"mod":0.899,"site":"Wetland"},{"pt":1.769,"mod":0.972,"site":"Wetland"},{"pt":1.774,"mod":0.915,"site":"Wetland"},{"pt":1.785,"mod":0.882,"site":"Wetland"},{"pt":1.789,"mod":0.825,"site":"Wetland"},{"pt":1.797,"mod":0.785,"site":"Wetland"},{"pt":1.800,"mod":0.744,"site":"Wetland"},{"pt":1.812,"mod":0.801,"site":"Wetland"},{"pt":1.820,"mod":0.817,"site":"Wetland"},{"pt":1.828,"mod":0.858,"site":"Wetland"},{"pt":1.843,"mod":0.825,"site":"Wetland"},{"pt":1.851,"mod":1.086,"site":"Wetland"},{"pt":1.858,"mod":0.891,"site":"Wetland"},{"pt":1.874,"mod":0.817,"site":"Wetland"},{"pt":1.881,"mod":0.736,"site":"Wetland"},{"pt":1.881,"mod":0.931,"site":"Wetland"},{"pt":1.886,"mod":0.850,"site":"Wetland"},{"pt":1.897,"mod":0.801,"site":"Wetland"},{"pt":1.904,"mod":0.760,"site":"Wetland"},{"pt":1.904,"mod":1.086,"site":"Wetland"},{"pt":1.920,"mod":0.777,"site":"Wetland"},{"pt":1.920,"mod":0.744,"site":"Wetland"},{"pt":1.927,"mod":0.712,"site":"Wetland"},{"pt":1.935,"mod":0.728,"site":"Wetland"},{"pt":1.943,"mod":0.736,"site":"Wetland"},{"pt":1.943,"mod":0.801,"site":"Wetland"},{"pt":1.950,"mod":0.736,"site":"Wetland"},{"pt":1.953,"mod":1.118,"site":"Wetland"},{"pt":1.966,"mod":0.964,"site":"Wetland"},{"pt":1.969,"mod":0.861,"site":"Wetland"},{"pt":1.973,"mod":0.825,"site":"Wetland"},{"pt":1.981,"mod":0.785,"site":"Wetland"},{"pt":1.989,"mod":0.915,"site":"Wetland"},{"pt":1.993,"mod":1.004,"site":"Wetland"},{"pt":1.996,"mod":0.891,"site":"Wetland"},{"pt":2.004,"mod":0.752,"site":"Wetland"},{"pt":2.019,"mod":0.728,"site":"Wetland"},{"pt":2.030,"mod":0.760,"site":"Wetland"},{"pt":2.039,"mod":0.907,"site":"Wetland"},{"pt":2.050,"mod":0.728,"site":"Wetland"},{"pt":2.054,"mod":1.021,"site":"Wetland"},{"pt":2.057,"mod":0.777,"site":"Wetland"},{"pt":2.073,"mod":0.996,"site":"Wetland"},{"pt":2.080,"mod":0.744,"site":"Wetland"},{"pt":2.091,"mod":0.777,"site":"Wetland"},{"pt":2.096,"mod":0.728,"site":"Wetland"},{"pt":2.100,"mod":0.695,"site":"Wetland"},{"pt":2.107,"mod":0.858,"site":"Wetland"},{"pt":2.116,"mod":0.842,"site":"Wetland"},{"pt":2.122,"mod":0.752,"site":"Wetland"},{"pt":2.126,"mod":0.793,"site":"Wetland"},{"pt":2.137,"mod":0.695,"site":"Wetland"},{"pt":2.146,"mod":0.720,"site":"Wetland"},{"pt":2.149,"mod":0.736,"site":"Wetland"},{"pt":2.157,"mod":0.858,"site":"Wetland"},{"pt":2.162,"mod":0.817,"site":"Wetland"},{"pt":2.172,"mod":0.964,"site":"Wetland"},{"pt":2.177,"mod":0.825,"site":"Wetland"},{"pt":2.180,"mod":0.785,"site":"Wetland"},{"pt":2.183,"mod":0.728,"site":"Wetland"},{"pt":2.188,"mod":0.809,"site":"Wetland"},{"pt":2.203,"mod":0.760,"site":"Wetland"},{"pt":2.211,"mod":0.728,"site":"Wetland"},{"pt":2.226,"mod":0.825,"site":"Wetland"},{"pt":2.238,"mod":0.809,"site":"Wetland"},{"pt":2.241,"mod":0.934,"site":"Wetland"},{"pt":2.249,"mod":0.712,"site":"Wetland"},{"pt":2.257,"mod":0.777,"site":"Wetland"},{"pt":2.264,"mod":0.720,"site":"Wetland"},{"pt":2.275,"mod":0.760,"site":"Wetland"},{"pt":2.284,"mod":0.695,"site":"Wetland"},{"pt":2.295,"mod":0.720,"site":"Wetland"},{"pt":2.303,"mod":0.736,"site":"Wetland"},{"pt":2.315,"mod":0.817,"site":"Wetland"},{"pt":2.318,"mod":0.736,"site":"Wetland"},{"pt":2.336,"mod":0.736,"site":"Wetland"},{"pt":2.352,"mod":0.858,"site":"Wetland"},{"pt":2.361,"mod":0.809,"site":"Wetland"},{"pt":2.367,"mod":0.760,"site":"Wetland"},{"pt":2.379,"mod":0.768,"site":"Wetland"},{"pt":2.395,"mod":0.728,"site":"Wetland"},{"pt":2.402,"mod":0.850,"site":"Wetland"},{"pt":2.448,"mod":0.988,"site":"Wetland"},{"pt":2.448,"mod":0.760,"site":"Wetland"},{"pt":2.464,"mod":0.720,"site":"Wetland"},{"pt":2.487,"mod":0.837,"site":"Wetland"},{"pt":2.494,"mod":0.817,"site":"Wetland"},{"pt":2.514,"mod":0.801,"site":"Wetland"},{"pt":2.520,"mod":0.760,"site":"Wetland"},{"pt":2.533,"mod":0.744,"site":"Wetland"},{"pt":1.866,"mod":1.094,"site":"Wetland"},{"pt":1.858,"mod":1.069,"site":"Wetland"},{"pt":1.843,"mod":1.061,"site":"Wetland"},{"pt":1.858,"mod":0.959,"site":"Wetland"},{"pt":1.812,"mod":0.972,"site":"Wetland"},{"pt":1.805,"mod":0.956,"site":"Wetland"},{"pt":1.769,"mod":1.021,"site":"Wetland"},{"pt":1.725,"mod":0.923,"site":"Wetland"},{"pt":1.720,"mod":0.825,"site":"Wetland"},{"pt":1.705,"mod":0.801,"site":"Wetland"},{"pt":1.950,"mod":1.004,"site":"Wetland"},{"pt":1.978,"mod":1.021,"site":"Wetland"},{"pt":1.981,"mod":0.874,"site":"Wetland"},{"pt":1.950,"mod":0.915,"site":"Wetland"},{"pt":1.380,"mod":0.996,"site":"Wetland"},{"pt":1.370,"mod":0.866,"site":"Wetland"},{"pt":1.429,"mod":0.695,"site":"Wetland"},{"pt":1.330,"mod":0.695,"site":"Wetland"},
{"pt":1.061,"mod":0.830,"site":"Shrubland"},{"pt":1.219,"mod":0.817,"site":"Shrubland"},{"pt":1.202,"mod":0.877,"site":"Shrubland"},{"pt":1.230,"mod":0.907,"site":"Shrubland"},{"pt":1.253,"mod":0.894,"site":"Shrubland"},{"pt":1.276,"mod":0.871,"site":"Shrubland"},{"pt":1.284,"mod":0.882,"site":"Shrubland"},{"pt":1.303,"mod":0.926,"site":"Shrubland"},{"pt":1.291,"mod":0.858,"site":"Shrubland"},{"pt":1.325,"mod":1.045,"site":"Shrubland"},{"pt":1.337,"mod":0.939,"site":"Shrubland"},{"pt":1.340,"mod":0.915,"site":"Shrubland"},{"pt":1.352,"mod":0.943,"site":"Shrubland"},{"pt":1.360,"mod":1.082,"site":"Shrubland"},{"pt":1.368,"mod":0.972,"site":"Shrubland"},{"pt":1.380,"mod":0.907,"site":"Shrubland"},{"pt":1.391,"mod":0.858,"site":"Shrubland"},{"pt":1.406,"mod":0.985,"site":"Shrubland"},{"pt":1.411,"mod":0.972,"site":"Shrubland"},{"pt":1.421,"mod":0.988,"site":"Shrubland"},{"pt":1.426,"mod":0.915,"site":"Shrubland"},{"pt":1.467,"mod":0.980,"site":"Shrubland"},{"pt":1.472,"mod":0.939,"site":"Shrubland"},{"pt":1.475,"mod":0.894,"site":"Shrubland"},{"pt":1.490,"mod":1.102,"site":"Shrubland"},{"pt":1.498,"mod":0.956,"site":"Shrubland"},{"pt":1.506,"mod":0.923,"site":"Shrubland"},{"pt":1.536,"mod":1.021,"site":"Shrubland"},{"pt":1.544,"mod":0.931,"site":"Shrubland"},{"pt":1.559,"mod":0.899,"site":"Shrubland"},{"pt":1.567,"mod":0.988,"site":"Shrubland"},{"pt":1.570,"mod":1.037,"site":"Shrubland"},{"pt":1.578,"mod":0.991,"site":"Shrubland"},{"pt":1.582,"mod":1.164,"site":"Shrubland"},{"pt":1.590,"mod":0.947,"site":"Shrubland"},{"pt":1.598,"mod":1.037,"site":"Shrubland"},{"pt":1.613,"mod":1.013,"site":"Shrubland"},{"pt":1.625,"mod":1.050,"site":"Shrubland"},{"pt":1.628,"mod":1.097,"site":"Shrubland"},{"pt":1.636,"mod":0.894,"site":"Shrubland"},{"pt":1.644,"mod":1.094,"site":"Shrubland"},{"pt":1.644,"mod":1.029,"site":"Shrubland"},{"pt":1.662,"mod":1.178,"site":"Shrubland"},{"pt":1.690,"mod":1.069,"site":"Shrubland"},{"pt":1.693,"mod":1.037,"site":"Shrubland"},{"pt":1.697,"mod":0.923,"site":"Shrubland"},{"pt":1.705,"mod":1.013,"site":"Shrubland"},{"pt":1.720,"mod":1.078,"site":"Shrubland"},{"pt":1.728,"mod":1.050,"site":"Shrubland"},{"pt":1.748,"mod":1.050,"site":"Shrubland"},{"pt":1.751,"mod":1.069,"site":"Shrubland"},{"pt":1.759,"mod":1.013,"site":"Shrubland"},{"pt":1.766,"mod":0.996,"site":"Shrubland"},{"pt":1.774,"mod":0.845,"site":"Shrubland"},{"pt":1.797,"mod":1.029,"site":"Shrubland"},{"pt":1.805,"mod":0.988,"site":"Shrubland"},{"pt":1.812,"mod":1.037,"site":"Shrubland"},{"pt":1.820,"mod":1.229,"site":"Shrubland"},{"pt":1.825,"mod":1.073,"site":"Shrubland"},{"pt":1.828,"mod":1.086,"site":"Shrubland"},{"pt":1.835,"mod":1.040,"site":"Shrubland"},{"pt":1.840,"mod":1.175,"site":"Shrubland"},{"pt":1.843,"mod":1.248,"site":"Shrubland"},{"pt":1.851,"mod":1.135,"site":"Shrubland"},{"pt":1.858,"mod":1.135,"site":"Shrubland"},{"pt":1.866,"mod":0.991,"site":"Shrubland"},{"pt":1.904,"mod":1.089,"site":"Shrubland"},{"pt":1.912,"mod":1.029,"site":"Shrubland"},{"pt":1.943,"mod":0.874,"site":"Shrubland"},{"pt":1.943,"mod":1.135,"site":"Shrubland"},{"pt":1.950,"mod":1.061,"site":"Shrubland"},{"pt":1.953,"mod":1.021,"site":"Shrubland"},{"pt":1.966,"mod":1.180,"site":"Shrubland"},
{"pt":2.637,"mod":1.741,"site":"Coniferous forest"},{"pt":2.574,"mod":1.683,"site":"Coniferous forest"},{"pt":2.799,"mod":1.598,"site":"Coniferous forest"},{"pt":2.493,"mod":1.468,"site":"Coniferous forest"},{"pt":2.664,"mod":1.453,"site":"Coniferous forest"},{"pt":2.732,"mod":1.395,"site":"Coniferous forest"},{"pt":2.736,"mod":1.405,"site":"Coniferous forest"},{"pt":2.770,"mod":1.395,"site":"Coniferous forest"},{"pt":2.864,"mod":1.374,"site":"Coniferous forest"},{"pt":2.594,"mod":1.268,"site":"Coniferous forest"},{"pt":2.402,"mod":1.229,"site":"Coniferous forest"},{"pt":2.582,"mod":1.174,"site":"Coniferous forest"},{"pt":2.752,"mod":1.193,"site":"Coniferous forest"},{"pt":2.931,"mod":1.178,"site":"Coniferous forest"},{"pt":2.195,"mod":1.063,"site":"Coniferous forest"},{"pt":2.533,"mod":1.029,"site":"Coniferous forest"},{"pt":2.739,"mod":1.014,"site":"Coniferous forest"},{"pt":2.887,"mod":1.024,"site":"Coniferous forest"},{"pt":2.609,"mod":0.882,"site":"Coniferous forest"},{"pt":2.269,"mod":0.845,"site":"Coniferous forest"},{"pt":2.491,"mod":0.819,"site":"Coniferous forest"},{"pt":2.907,"mod":0.770,"site":"Coniferous forest"}
]
},
"hconcat": [
{
 "title": {"text": "(a) Irrigated areas"},
 "width": 492, "height": 315,
 "data": {"name": "irr"},
 "mark": {"type": "point", "filled": true, "opacity": 1, "size": 64},
 "encoding": {
  "x": {"field": "pt", "type": "quantitative", "scale": {"domain": [1, 3], "nice": false, "zero": false}, "axis": {"values": [1, 1.5, 2, 2.5, 3], "format": "~g", "title": "PT-JPL-thermal ET (mm/day)"}},
  "y": {"field": "mod", "type": "quantitative", "scale": {"domain": [0.5, 2], "nice": false, "zero": false}, "axis": {"values": [0.5, 1, 1.5, 2], "format": "~g", "title": "MOD16 ET (mm/day)", "titlePadding": 4}},
  "color": {"field": "site", "type": "nominal", "sort": null, "scale": {"domain": ["Mixed-irrigation BXII", "Mixed-irrigation left", "Rice-right", "Rice-left"], "range": ["#FF66CC", "#00DD00", "#2D12E6", "#00B0F0"]}, "legend": {"orient": "none", "legendX": 17, "legendY": 4, "rowPadding": 12.7, "title": null}},
  "shape": {"field": "site", "type": "nominal", "sort": null, "scale": {"domain": ["Mixed-irrigation BXII", "Mixed-irrigation left", "Rice-right", "Rice-left"], "range": ["M-0.8,-0.8H0.8V0.8H-0.8Z", "M0,-0.9L0.9,0L0,0.9L-0.9,0Z", "M0,-0.8L0.95,0.75H-0.95Z", "M-1.1,-0.33H1.1V0.33H-1.1Z"]}, "legend": {"orient": "none", "legendX": 17, "legendY": 4, "rowPadding": 12.7, "title": null}}
 }
},
{
 "title": {"text": "(b) Natural ecosystems", "dx": -5},
 "width": 466, "height": 310,
 "data": {"name": "nat"},
 "mark": {"type": "point", "filled": true, "opacity": 1, "size": 64, "strokeWidth": 1.1},
 "encoding": {
  "x": {"field": "pt", "type": "quantitative", "scale": {"domain": [1, 3], "nice": false, "zero": false}, "axis": {"values": [1, 1.5, 2, 2.5, 3], "format": "~g", "title": "PT-JPL-thermal ET (mm/day)"}},
  "y": {"field": "mod", "type": "quantitative", "scale": {"domain": [0.5, 2], "nice": false, "zero": false}, "axis": {"values": [0.5, 1, 1.5, 2], "format": "~g", "title": "MOD16 ET (mm/day)", "titlePadding": 9}},
  "fill": {"field": "site", "type": "nominal", "sort": null, "scale": {"domain": ["Wetland", "Shrubland", "Coniferous forest"], "range": ["#7030A0", "#FF0000", "#008000"]}, "legend": {"orient": "none", "legendX": 22, "legendY": 23, "rowPadding": 8.5, "title": null}},
  "stroke": {"field": "site", "type": "nominal", "sort": null, "scale": {"domain": ["Wetland", "Shrubland", "Coniferous forest"], "range": ["#7030A0", "#FF0000", "#008000"]}, "legend": {"orient": "none", "legendX": 22, "legendY": 23, "rowPadding": 8.5, "title": null}},
  "shape": {"field": "site", "type": "nominal", "sort": null, "scale": {"domain": ["Wetland", "Shrubland", "Coniferous forest"], "range": ["M-0.65,0A0.65,0.65 0 1,0 0.65,0A0.65,0.65 0 1,0 -0.65,0Z", "M-0.7,-0.7L0.7,0.7M-0.7,0.7L0.7,-0.7", "M-0.8,-0.8L0.8,0.8M-0.8,0.8L0.8,-0.8M0,-0.8V0.8M-0.6,-0.8H0.6M-0.6,0.8H0.6"]}, "legend": {"orient": "none", "legendX": 22, "legendY": 23, "rowPadding": 8.5, "title": null}}
 }
}
],
"resolve": {"scale": {"color": "independent", "shape": "independent", "fill": "independent", "stroke": "independent", "x": "independent", "y": "independent"}, "legend": {"color": "independent", "shape": "independent", "fill": "independent", "stroke": "independent"}},
"spacing": 4
}
